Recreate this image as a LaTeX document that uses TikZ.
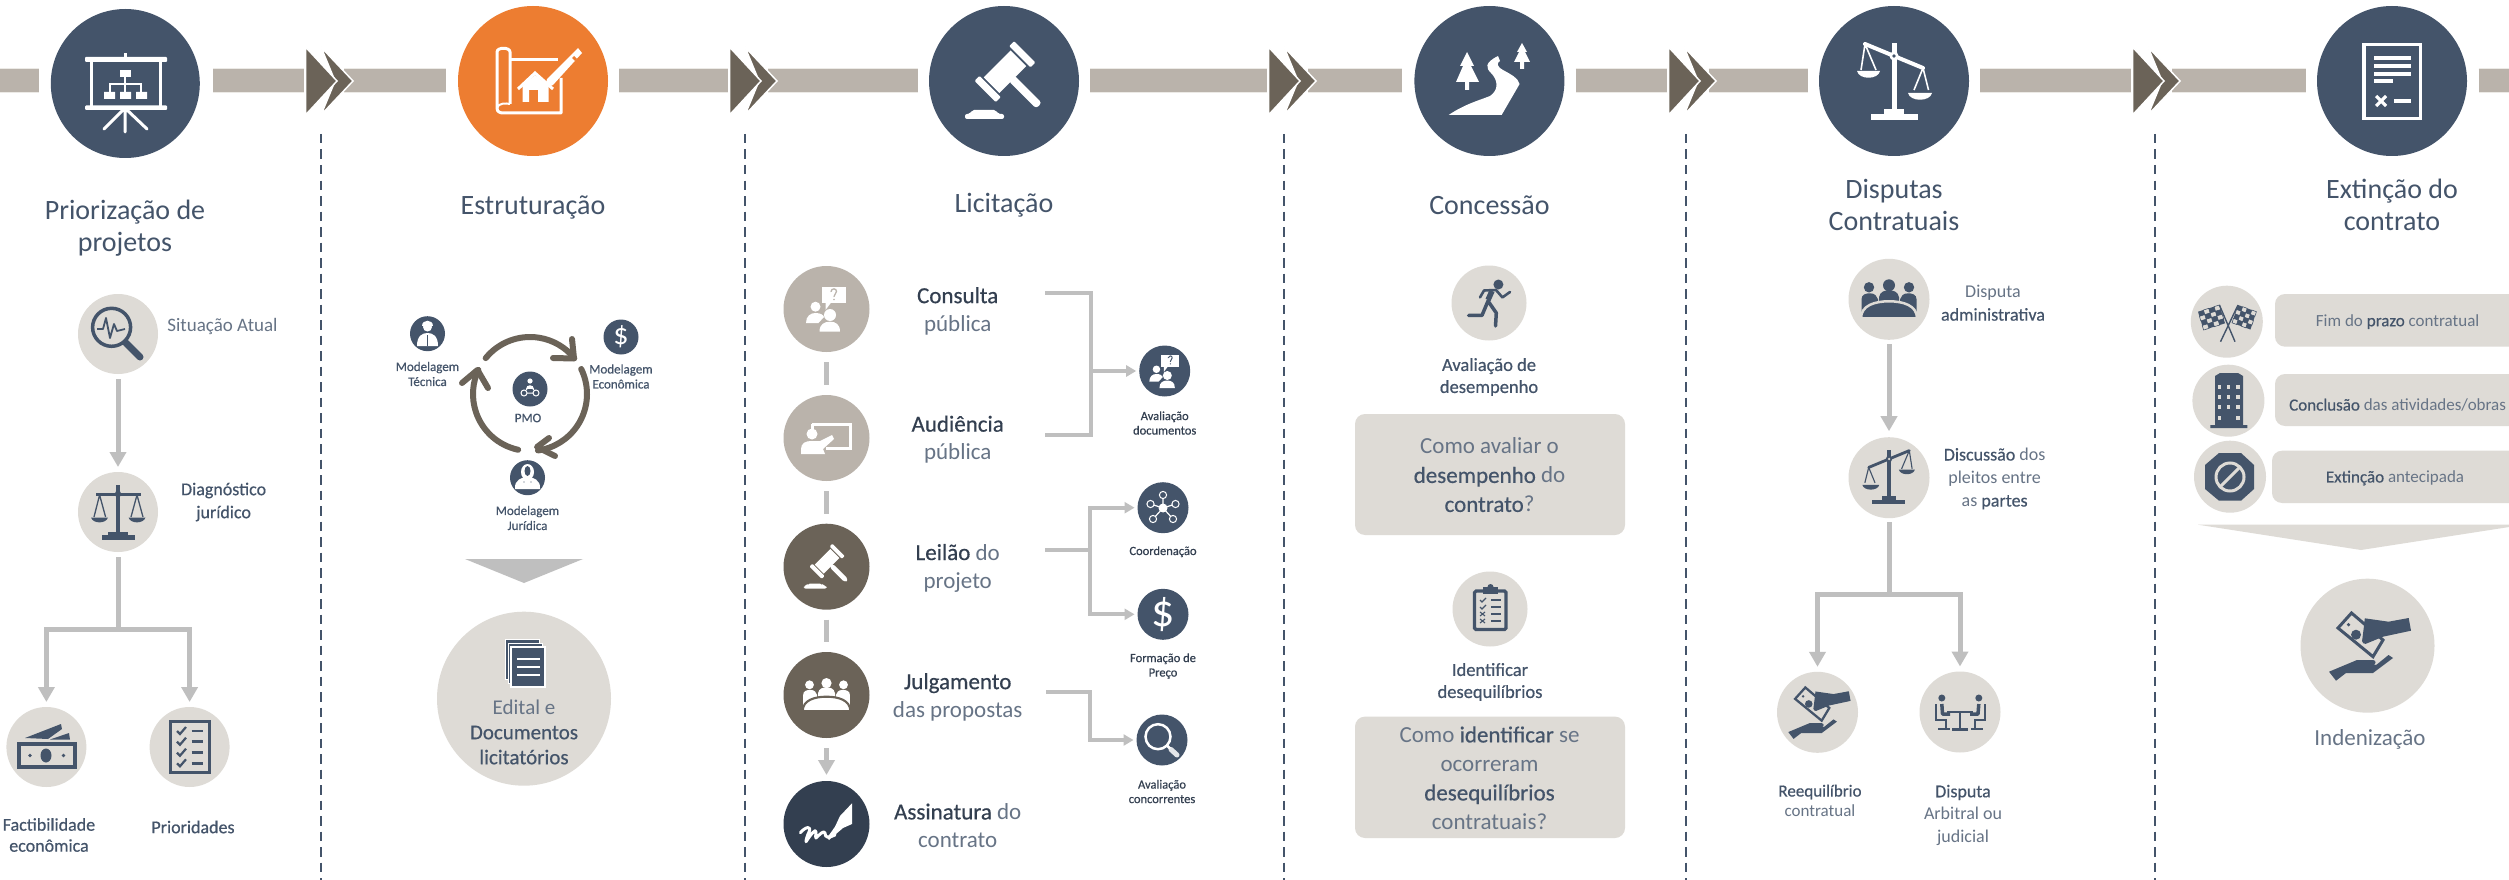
\documentclass[tikz,border=0pt]{standalone}
\usepackage{fontspec}
\setmainfont{Carlito}
\newfontfamily\semi[FakeBold=0.5]{Carlito}
\usetikzlibrary{arrows.meta,calc}
\definecolor{blu}{HTML}{44546A}
\definecolor{org}{HTML}{ED7D31}
\definecolor{tan}{HTML}{BAB3AB}
\definecolor{brn}{HTML}{6B6358}
\definecolor{nvy}{HTML}{333F50}
\definecolor{lit}{HTML}{DEDBD6}
\definecolor{con}{HTML}{BFBFBF}
\definecolor{mut}{HTML}{677486}
\definecolor{edg}{HTML}{ECEAE6}
\newcommand{\sbf}[1]{{\semi #1}}
\newcommand{\fs}[2]{\fontsize{#1}{#2}\selectfont}
\tikzset{
 disc/.style 2 args={circle,inner sep=0pt,outer sep=0pt,minimum size=#1 pt,fill=#2},
 ttl/.style={inner sep=0pt,align=center,text=blu,font=\fs{28}{32}},
 txt/.style={inner sep=0pt,align=center,text=mut},
 bandln/.style={draw=edg,double=tan,double distance=23pt,line width=1pt},
 dashln/.style={draw=blu,line width=2pt,dash pattern=on 9.5pt off 6pt},
 conn/.style={draw=con,line width=5pt},
 thin conn/.style={draw=con,line width=4pt},
 head/.style={-{Triangle[length=15pt,width=16pt]}},
 shead/.style={-{Triangle[length=10pt,width=11pt]}},
 cyc/.style={draw=brn,line width=6pt,line cap=round,line join=round},
 box/.style={rounded corners=10pt,fill=lit},
}
% gavel, origin at icon centre
\newcommand{\icGavel}[3]{\begin{scope}[shift={#1},scale=#2]
 \begin{scope}[shift={(1,-9.3)},rotate=-45]
  \fill[#3] (-11,-19) rectangle (11,19);
  \fill[#3,rounded corners=3pt] (9,-4) rectangle (48,4);
  \fill[#3,rounded corners=1pt] (-15,-28) rectangle (15,-21);
  \fill[#3,rounded corners=1pt] (-15,21) rectangle (15,28);
 \end{scope}
 \fill[#3,rounded corners=2pt] (-39,38) -- (-39,33) -- (-34,33) -- (-32,29) -- (-8,29) -- (-6,33) -- (0,33) -- (0,38) -- cycle;
\end{scope}}
% tilted balance
\newcommand{\icTilt}[5]{\begin{scope}[shift={#1},xscale=#4*#2,yscale=#2]
 \fill[#3] (-2.5,-38) rectangle (2.5,32);
 \fill[#3] (-23,33) rectangle (24,39);
 \fill[#3] (-10,28) rectangle (10,34);
 \draw[#3,line width=#2*4pt,line cap=round] (-29,-37) -- (29,-13);
 \draw[#3,line width=#2*1.6pt,line join=round] (-33,-11) -- (-29,-37) -- (-18,-11);
 \draw[#3,line width=#2*1.6pt,line join=round] (20,9) -- (29,-13) -- (34.5,9);
 \fill[#3] (-37,-10) .. controls (-35,-1) and (-16,-1) .. (-14,-10) -- cycle;
 \fill[#3] (14,12) .. controls (16,21) and (36,21) .. (38,12) -- cycle;
 \fill[#3] (0,-25) circle[radius=4.5];
 \fill[#5] (0,-25) circle[radius=1.8];
\end{scope}}
% people round a table
\newcommand{\icTable}[4]{\begin{scope}[shift={#1},scale=#2]
 \fill[#3] (-27.5,16) -- (-27.5,0) .. controls (-27.5,-5) and (-23,-6) .. (-19,-6) .. controls (-14,-6) and (-12,-3) .. (-11,0) -- (-11,16) -- cycle;
 \fill[#3] (27.5,16) -- (27.5,0) .. controls (27.5,-5) and (23,-6) .. (19,-6) .. controls (14,-6) and (12,-3) .. (11,0) -- (11,16) -- cycle;
 \fill[#3] (-10,6) -- (-10,-2) .. controls (-9,-8) and (-4,-9) .. (0,-9) .. controls (4,-9) and (9,-8) .. (10,-2) -- (10,6) -- cycle;
 \filldraw[fill=#3,draw=#4,line width=#2*2.5pt] (-28,19) .. controls (-28,6) and (-14,2) .. (0,2) .. controls (14,2) and (28,6) .. (28,19) -- cycle;
 \fill[#3] (-20,-12) circle[radius=5.2];
 \fill[#3] (0,-14) circle[radius=6];
 \fill[#3] (20,-12) circle[radius=5.2];
\end{scope}}
% hands and banknote
\newcommand{\icHands}[4]{\begin{scope}[shift={#1},scale=#2]
 \draw[#3,line width=#2*3pt,line join=miter] (-16,-32.7) -- (-29.5,-17.7) -- (5.5,11) -- (15.5,-5.7) -- cycle;
 \fill[#3] (-11.5,-11) circle[radius=5];
 \fill[#3] (-19,-21) circle[radius=1.8];
 \fill[#3] (-2.7,-27.4) -- (21,-24) -- (41.2,-27.7) -- (43.5,-15) -- (15.5,-9) -- (1,-3) .. controls (-3,0) and (-7,-3) .. (-5,-8) -- (-4,-16) -- cycle;
 \fill[#3] (-38.5,26) -- (-10.5,14.3) -- (5.3,14.3) .. controls (9,14.3) and (9,19) .. (5,19.5) -- (-4,20) -- (9,19) -- (21,9.3) -- (25.5,12.3) -- (5.5,27.3) -- (-21.5,27.3) -- (-31.5,35) -- cycle;
\end{scope}}
% two people and a question balloon
\newcommand{\icAsk}[4]{\begin{scope}[shift={#1},scale=#2]
 \fill[#3] (-4.5,-22) rectangle (19.5,-6);
 \fill[#3] (-1,-7) -- (5,-7) -- (-1,1) -- cycle;
 \draw[#4,line width=#2*1.3pt,line cap=round] (4.5,-17.5) .. controls (5,-21) and (10,-21) .. (10,-17.5) .. controls (10,-15) and (7.5,-15) .. (7.5,-12.5);
 \fill[#4] (7.5,-9.5) circle[radius=.9];
 \fill[#3] (-11,-2.3) circle[radius=5];
 \fill[#3] (-20.5,14) .. controls (-20.5,7) and (-16,4) .. (-11,4) .. controls (-6,4) and (-3,6) .. (-2.5,8) -- (-8,14) -- cycle;
 \fill[#3] (3.5,6) circle[radius=6];
 \fill[#3] (-7,22.7) .. controls (-7,15) and (-2,12.7) .. (3.5,12.7) .. controls (9,12.7) and (13.5,15) .. (13.5,22.7) -- cycle;
\end{scope}}
\begin{document}
\begin{tikzpicture}[x=1pt,y=-1pt]
\useasboundingbox (0,0) rectangle (2509,880);
\clip (0,0) rectangle (2509,880);
\fill[white] (0,0) rectangle (2509,880);
% ---------- stage discs and backbone
\node[disc={149}{blu}] (c1) at (125.3,83.5) {};
\node[disc={150}{org}] (c2) at (533,81) {};
\node[disc={150}{blu}] (c3) at (1004,81) {};
\node[disc={150}{blu}] (c4) at (1489.4,81) {};
\node[disc={150}{blu}] (c5) at (1894,81) {};
\node[disc={150}{blu}] (c6) at (2392,81) {};
\coordinate (bl) at (0,81); \coordinate (br) at (2509,81);
\coordinate (ch1) at (304,81); \coordinate (ch2) at (728,81); \coordinate (ch3) at (1267,81);
\coordinate (ch4) at (1667,81); \coordinate (ch5) at (2131,81);
\draw[bandln,shorten >=86.5pt] (bl) -- (bl -| c1);
\draw[bandln,shorten <=88pt] (ch1 -| c1) -- (ch1);
\draw[bandln,shorten <=40pt,shorten >=87pt] (ch1) -- (c2.center);
\draw[bandln,shorten <=86pt] (c2.center) -- (ch2);
\draw[bandln,shorten <=40pt,shorten >=86pt] (ch2) -- (c3.center);
\draw[bandln,shorten <=86pt] (c3.center) -- (ch3);
\draw[bandln,shorten <=41pt,shorten >=87pt] (ch3) -- (c4.center);
\draw[bandln,shorten <=86.5pt] (c4.center) -- (ch4);
\draw[bandln,shorten <=41.5pt,shorten >=86pt] (ch4) -- (c5.center);
\draw[bandln,shorten <=86pt] (c5.center) -- (ch5);
\draw[bandln,shorten <=41pt,shorten >=86pt] (ch5) -- (c6.center);
\draw[bandln,shorten <=86.5pt] (c6.center) -- (br);
\foreach \a in {ch1,ch2,ch3,ch4,ch5}{
 \begin{scope}[shift={(\a)}]
  \filldraw[fill=brn,draw=white,line width=1.5pt,line join=miter] (17,-34) -- (49,0) -- (17,34) -- (31,0) -- cycle;
  \filldraw[fill=brn,draw=white,line width=1.5pt,line join=miter] (1.5,-34) -- (33,0) -- (1.5,34) -- cycle;
 \end{scope}}
% dashed separators
\coordinate (d1t) at (320.5,134); \coordinate (d1b) at (320.5,880);
\coordinate (d2t) at (744.5,134); \coordinate (d2b) at (744.5,880);
\coordinate (d3t) at (1284,134); \coordinate (d3b) at (1284,880);
\coordinate (d4t) at (1685.7,134); \coordinate (d4b) at (1685.7,880);
\coordinate (d5t) at (2155.4,134); \coordinate (d5b) at (2155.4,880);
\foreach \k in {1,...,5}{\draw[dashln] (d\k t) -- (d\k b);}
% ---------- icons in the stage discs
\begin{scope}[white]
 \fill (123.5,53) rectangle (126.5,58);
 \fill[rounded corners=1pt] (85,57) rectangle (167,62);
 \fill[rounded corners=1pt] (85,105.5) rectangle (167,110);
 \draw[line width=3pt] (91,60) -- (91,107) (160,60) -- (160,107);
 \draw[line width=3pt,line cap=round] (125,108) -- (125,132) (124,109) -- (104,129) (126,109) -- (147,129);
 \fill (120,70) rectangle (131,77);
 \fill (104,92) rectangle (115,99) (120,92) rectangle (131,99) (136,92) rectangle (147,99);
 \draw[line width=1.5pt] (125,77) -- (125,92) (110,92) -- (110,84) -- (141,84) -- (141,92);
\end{scope}
\begin{scope}[white]
 \draw[line width=3pt,line join=round] (510,104) -- (510,52) .. controls (510,47) and (497,47) .. (497,52) -- (497,108) .. controls (497,112) and (500,113) .. (504,113) -- (561,113) -- (561,78);
 \draw[line width=3pt] (510,60) -- (558,60);
 \draw[line width=2pt] (497,108) .. controls (498,103) and (506,103) .. (510,104);
 \fill (578,48) -- (582,53) -- (553,85) -- (545,88) -- (547,79) -- cycle;
 \fill[org] (574,56) -- (577,59) -- (575,61) -- (572,58) -- cycle;
 \fill (522.5,86) -- (535,75) -- (548.7,86) -- (548.7,102) -- (538,102) -- (538,90) -- (529,90) -- (529,102) -- (522.5,102) -- cycle;
 \draw[line width=3pt,line join=miter] (518,89) -- (535,73) -- (553,89);
\end{scope}
\icGavel{(1004,81)}{1}{white}
\begin{scope}[white]
 \fill (1448.6,115) .. controls (1465,104) and (1480,100) .. (1490,96) .. controls (1499,90) and (1498,80) .. (1491,73) .. controls (1486,68) and (1484,63) .. (1498,56) -- (1500,61) .. controls (1497,63) and (1496,66) .. (1503,70) .. controls (1512,75) and (1518,78) .. (1519.6,84) -- (1501.6,115) -- cycle;
 \fill (1467,52) -- (1474,66) -- (1471,66) -- (1479,82) -- (1469,82) -- (1469,90) -- (1465,90) -- (1465,82) -- (1456,82) -- (1463,66) -- (1460,66) -- cycle;
 \fill (1522,43) -- (1527,52) -- (1525,52) -- (1530,62) -- (1524,62) -- (1524,69) -- (1520,69) -- (1520,62) -- (1514,62) -- (1519,52) -- (1517,52) -- cycle;
\end{scope}
\icTilt{(1894,81)}{1}{white}{1}{blu}
\begin{scope}[white]
 \draw[line width=3.5pt] (2364,44.5) rectangle (2420.5,118.5);
 \draw[line width=4pt] (2374.4,58) -- (2411.4,58) (2374.4,66) -- (2411.4,66) (2374.4,74) -- (2411.4,74) (2374.4,81) -- (2393,81) (2394,101) -- (2411.4,101);
 \draw[line width=3.2pt] (2376,96) -- (2386,106) (2386,96) -- (2376,106);
\end{scope}
% ---------- titles
\node[ttl] (t1) at (125,228) {Priorização de\\projetos};
\node[ttl] (t2) at (533,207) {Estruturação};
\node[ttl] (t3) at (1004,205) {Licitação};
\node[ttl] (t4) at (1489.4,205) {Concessão};
\node[ttl] (t5) at (1894,205) {Disputas\\Contratuais};
\node[ttl] (t6) at (2392,205) {Extinção do\\contrato};
% ---------- column 1
\node[disc={80}{lit}] (sit) at (118,334) {};
\node[disc={80}{lit}] (dia) at (118,512) {};
\node[disc={80}{lit}] (fac) at (46.4,747) {};
\node[disc={80}{lit}] (pri) at (189.6,747) {};
\coordinate (j1) at (118,629);
\draw[conn,head,shorten <=5pt,shorten >=5pt] (sit) -- (dia);
\draw[conn,shorten <=5pt] (dia) -- (j1);
\draw[conn,head,shorten >=5pt] (j1) -| (fac.north);
\draw[conn,head,shorten >=5pt] (j1) -| (pri.north);
\node[txt,font=\fs{19}{20}] (l1) at (222.5,326) {Situação Atual};
\node[txt,text=blu,font=\fs{18}{23}] (l2) at (223.6,502) {\sbf{Diagnóstico}\\\sbf{jurídico}};
\node[txt,text=blu,font=\fs{18}{21}] (l3) at (49,835) {\sbf{Factibilidade}\\\sbf{econômica}};
\node[txt,text=blu,font=\fs{18}{21}] (l4) at (193,827) {\sbf{Prioridades}};
\begin{scope}[blu]
 \draw[line width=3.5pt] (111.6,327.3) circle[radius=19];
 \draw[line width=7pt,line cap=round] (126,343) -- (140,357);
 \draw[line width=1.8pt,line join=round] (97,329) -- (103,329) -- (106,318) -- (110,338) -- (114,324) -- (117,331) -- (125,329);
\end{scope}
\begin{scope}[blu]
 \fill (116,485) rectangle (120,536);
 \fill (102,535) rectangle (134.5,539.5);
 \fill (108,532) rectangle (128,536);
 \fill (95.5,492.5) rectangle (141,495.5);
 \fill (118,494) circle[radius=3.2];
 \draw[line width=1.3pt,line join=round] (94,517) -- (99.6,495) -- (105.6,517);
 \draw[line width=1.3pt,line join=round] (131,517) -- (137,495) -- (143,517);
 \fill (91,517.5) .. controls (93,524) and (106,524) .. (108,517.5) -- cycle;
 \fill (128.5,517.5) .. controls (130.5,524) and (143.5,524) .. (145.5,517.5) -- cycle;
\end{scope}
\begin{scope}[blu]
 \fill (17,741.7) rectangle (76.7,769);
 \fill[lit] (20.5,746) rectangle (73,765);
 \fill (46,755.5) ellipse[x radius=5.5,y radius=7];
 \fill (30,755.5) circle[radius=1.8] (63.5,755.5) circle[radius=1.8];
 \fill (25,738) -- (61,724) -- (62,729) -- (48,739) -- cycle;
 \fill (50,739.5) -- (69,733) -- (70,739.5) -- cycle;
\end{scope}
\begin{scope}[blu]
 \draw[line width=3.2pt] (170.5,721.5) rectangle (209.5,772.5);
 \foreach \y in {731,741.7,752.7,763.3}{
  \draw[line width=2.2pt] (177,\y) -- (180,\y+3) -- (186,\y-4);
  \draw[line width=2.6pt] (191.5,\y) -- (203.4,\y);
 }
\end{scope}
% ---------- column 2
\node[disc={35}{blu}] (me1) at (427.5,333.7) {};
\node[disc={35}{blu}] (me2) at (621,337) {};
\node[disc={35}{blu}] (me3) at (530,389) {};
\node[disc={35}{blu}] (me4) at (527.5,477.7) {};
\node[inner sep=0pt,text=white,font=\fs{30}{30}] (dol1) at (621,337) {\$};
\node[txt,text=blu,font=\fs{13}{15}] (m1) at (427.5,374) {\sbf{Modelagem}\\\sbf{Técnica}};
\node[txt,text=blu,font=\fs{13}{15}] (m2) at (621,376.5) {\sbf{Modelagem}\\\sbf{Econômica}};
\node[txt,text=blu,font=\fs{13}{15}] (m3) at (528,418) {\sbf{PMO}};
\node[txt,text=blu,font=\fs{13}{15}] (m4) at (527.5,518) {\sbf{Modelagem}\\\sbf{Jurídica}};
\begin{scope}[white]
 \fill (427.5,327) circle[radius=4.5];
 \fill (422,326) .. controls (422,319) and (433,319) .. (433,326) -- cycle;
 \fill (417,346) .. controls (417,336) and (422,333) .. (427.5,333) .. controls (433,333) and (438,336) .. (438,346) -- cycle;
 \fill[blu] (426.7,335) rectangle (428.3,346);
\end{scope}
\begin{scope}[white]
 \fill (530,381) circle[radius=2.6];
 \fill (526,389) .. controls (526,384) and (534,384) .. (534,389) -- cycle;
 \draw[line width=1pt] (524,393) circle[radius=3] (536,393) circle[radius=3];
 \draw[line width=1pt] (527,393) -- (533,393) (526,390) -- (528,388) (534,390) -- (532,388);
\end{scope}
\begin{scope}[white]
 \fill (527.5,472) ellipse[x radius=6.5,y radius=8];
 \fill (515,489) .. controls (514,480) and (522,477) .. (527.5,477) .. controls (533,477) and (541,480) .. (540,489) -- cycle;
 \fill[blu] (527.5,471) ellipse[x radius=3,y radius=5];
 \fill[blu] (524,482) circle[radius=.7] (531,482) circle[radius=.7];
\end{scope}
\coordinate (rc) at (530,394);
\draw[cyc] (rc) ++(219:57) arc (219:321:57);
\draw[cyc] (553,358) -- (574,358.5) -- (572,339);
\draw[cyc] (rc) ++(-26:57) arc (-26:82:57);
\draw[cyc] (549,438) -- (537,447) -- (555,456);
\draw[cyc] (rc) ++(102:57) arc (102:205:57);
\draw[cyc] (462,383) -- (477.5,370) -- (488,388);
\path[fill=con] (465,559) -- (583,559) -- (524,583) -- cycle;
\node[disc={174}{lit}] (edi) at (524,698.7) {};
\begin{scope}
 \foreach \o in {6,3}{\filldraw[fill=blu,draw=white,line width=1pt] (511-\o,647-\o*1.2) rectangle (545-\o,687-\o*1.2);}
 \filldraw[fill=blu,draw=white,line width=1.2pt] (511,647) rectangle (545,687);
 \draw[white,line width=2pt] (517.4,659) -- (539.5,659) (517.4,667) -- (539.5,667) (517.4,675) -- (539.5,675);
\end{scope}
\node[txt,font=\fs{21}{25}] (e1) at (524,732) {Edital e\\\textcolor{blu}{\sbf{Documentos}}\\\textcolor{blu}{\sbf{licitatórios}}};
% ---------- column 3
\node[disc={86}{tan}] (k1) at (826.5,309) {};
\node[disc={86}{tan}] (k2) at (826.5,438) {};
\node[disc={86}{brn}] (k3) at (826.5,566.7) {};
\node[disc={86}{brn}] (k4) at (826.5,695) {};
\node[disc={86}{nvy}] (k5) at (826.5,824) {};
\draw[conn,draw=con,line width=5.4pt,shorten <=10pt,shorten >=10pt] (k1) -- (k2);
\draw[conn,line width=5.4pt,shorten <=10pt,shorten >=10pt] (k2) -- (k3);
\draw[conn,line width=5.4pt,shorten <=10pt,shorten >=10pt] (k3) -- (k4);
\draw[conn,line width=5.4pt,head,shorten <=10pt,shorten >=6pt] (k4) -- (k5);
\node[txt,text=mut,font=\fs{23}{28}] (x1) at (957.7,311) {\textcolor{nvy}{\sbf{Consulta}}\\pública};
\node[txt,text=mut,font=\fs{23}{28}] (x2) at (957.7,439.5) {\textcolor{nvy}{\sbf{Audiência}}\\pública};
\node[txt,text=mut,font=\fs{23}{28}] (x3) at (957.7,568) {\textcolor{nvy}{\sbf{Leilão}} do\\projeto};
\node[txt,text=mut,font=\fs{23}{28}] (x4) at (957.7,697) {\textcolor{nvy}{\sbf{Julgamento}}\\das propostas};
\node[txt,text=mut,font=\fs{23}{28}] (x5) at (957.7,825.5) {\textcolor{nvy}{\sbf{Assinatura}} do\\contrato};
\node[disc={51}{blu}] (q1) at (1164.7,371) {};
\node[disc={51}{blu}] (q2) at (1163,507.7) {};
\node[disc={51}{blu}] (q3) at (1163,614.3) {};
\node[disc={51}{blu}] (q4) at (1162,740) {};
\node[txt,text=nvy,font=\fs{12.5}{14.5}] (y1) at (1164.7,423) {\sbf{Avaliação}\\\sbf{documentos}};
\node[txt,text=nvy,font=\fs{12.5}{14.5}] (y2) at (1163,551.7) {\sbf{Coordenação}};
\node[txt,text=nvy,font=\fs{12.5}{14.5}] (y3) at (1163,666) {\sbf{Formação de}\\\sbf{Preço}};
\node[txt,text=nvy,font=\fs{12.5}{14.5}] (y4) at (1162,791.5) {\sbf{Avaliação}\\\sbf{concorrentes}};
\coordinate (a1) at (1045,292.7); \coordinate (a2) at (1045,435); \coordinate (av) at (1091,371);
\draw[thin conn,line join=miter] (a1) -| (1091,435) -- (a2);
\draw[thin conn,shead,shorten >=3pt] (av) -- (q1);
\coordinate (b1) at (1045,550); \coordinate (bv) at (1090,550);
\draw[thin conn] (b1) -- (bv);
\draw[thin conn,shead,shorten >=3pt] (bv) |- (q2);
\draw[thin conn,shead,shorten >=3pt] (bv) |- (q3);
\coordinate (d1) at (1046,692); \coordinate (dv) at (1090,692);
\draw[thin conn,shead,shorten >=3pt] (d1) -- (dv) |- (q4);
\icAsk{(826.5,309)}{1}{white}{tan}
\begin{scope}[white]
 \draw[line width=3pt] (812,424) -- (850,424) -- (850,448) -- (826,448);
 \draw[line width=3pt] (812,424) -- (812,430);
 \fill (812,434) circle[radius=5.5];
 \fill (801,454) -- (801,449) .. controls (801,443) and (806,441) .. (811,441) -- (820,441) -- (832,435) -- (834,439) -- (823,449) -- (825,454) -- cycle;
\end{scope}
\icGavel{(826.5,566.7)}{.58}{white}
\icTable{(826.5,695)}{.85}{white}{brn}
\begin{scope}[white]
 \fill (852,803.3) -- (852,824) -- (843,828) -- (829,840) -- (827,838) -- (835,826.7) -- (840,816) -- cycle;
 \draw[line width=3pt,line cap=round,line join=round] (800.4,832.7) .. controls (806,826) and (812,826) .. (809,832) .. controls (807,836) and (806,840) .. (806,841.7) .. controls (811,834) and (816,828) .. (816,832) .. controls (816,836) and (815,838) .. (816,838) .. controls (820,834) and (824,830) .. (825,833) .. controls (825,838) and (828,838) .. (835,835);
\end{scope}
\icAsk{(1164.7,371)}{.75}{white}{blu}
\begin{scope}[white]
 \draw[line width=1.2pt] (1163,508) -- (1163,497) (1163,508) -- (1150.5,504) (1163,508) -- (1175.5,504) (1163,508) -- (1153,519) (1163,508) -- (1173,519);
 \fill (1163,508) circle[radius=4.5];
 \filldraw[fill=blu,draw=white,line width=1pt] (1163,495) circle[radius=3.6] (1150.5,504) circle[radius=3.6] (1175.5,504) circle[radius=3.6] (1153,519) circle[radius=3.6] (1173,519) circle[radius=3.6];
\end{scope}
\node[inner sep=0pt,text=white,font=\fs{46}{46}] (dol2) at (1163,614.3) {\$};
\begin{scope}[white]
 \draw[line width=2.5pt] (1158,736.7) circle[radius=12.5];
 \draw[line width=2.5pt] (1167,745.5) -- (1170,748.5);
 \draw[white,line width=5pt,line cap=round,opacity=.85] (1171,749.5) -- (1177,755);
\end{scope}
% ---------- column 4
\node[disc={75}{lit}] (p1) at (1489,303) {};
\node[disc={75}{lit}] (p2) at (1490,609) {};
\node[txt,text=blu,font=\fs{18.5}{22}] (z1) at (1489,377) {\sbf{Avaliação de}\\\sbf{desempenho}};
\node[txt,text=blu,font=\fs{18.5}{22}] (z2) at (1490,682) {\sbf{Identificar}\\\sbf{desequilíbrios}};
\path[box] (1355,414) rectangle (1625,535);
\path[box] (1355,716.6) rectangle (1625,838);
\node[txt,font=\fs{23}{29}] (z3) at (1489.5,475) {Como avaliar o\\\textcolor{blu}{\sbf{desempenho}} do\\\textcolor{blu}{\sbf{contrato}}?};
\node[txt,font=\fs{23}{29}] (z4) at (1489.5,778) {Como \textcolor{blu}{\sbf{identificar}} se\\ocorreram\\\textcolor{blu}{\sbf{desequilíbrios}}\\contratuais?};
\begin{scope}[blu]
 \fill (1498.4,284.5) circle[radius=5];
 \draw[line width=5.5pt,line join=round] (1492,291) -- (1488,300);
 \draw[line width=3.5pt,line join=round,line cap=round] (1468.6,315.4) -- (1482,315.4) -- (1488,301) -- (1496.3,313) -- (1495.5,326);
 \draw[line width=2.6pt,line join=round,line cap=round] (1480,297.4) -- (1484,290.5) -- (1496,290) -- (1502.4,297.4) -- (1510,292);
\end{scope}
\begin{scope}[blu]
 \draw[line width=3.2pt,rounded corners=1.5pt] (1474.5,591) rectangle (1506,629.5);
 \fill (1483,587) rectangle (1498,594);
 \fill (1490.5,587) circle[radius=3];
 \foreach \y in {600,607,614,621}{\draw[line width=1.8pt] (1491,\y) -- (1501,\y);}
 \foreach \y in {600,607}{\draw[line width=1.1pt] (1480,\y) -- (1482,\y+2) -- (1486,\y-2);}
 \foreach \y in {614,621}{\draw[line width=1.1pt] (1480,\y-2) -- (1485,\y+2) (1485,\y-2) -- (1480,\y+2);}
\end{scope}
% ---------- column 5
\node[disc={81}{lit}] (v1) at (1889,299.3) {};
\node[disc={81}{lit}] (v2) at (1889,477.7) {};
\node[disc={81}{lit}] (v3) at (1817.5,712.3) {};
\node[disc={81}{lit}] (v4) at (1960,712) {};
\coordinate (j5) at (1889,594);
\draw[conn,head,shorten <=4.5pt,shorten >=6pt] (v1) -- (v2);
\draw[conn,shorten <=4pt] (v2) -- (j5);
\draw[conn,head,shorten >=5pt] (j5) -| (v3.north);
\draw[conn,head,shorten >=5pt] (j5) -| (v4.north);
\node[txt,font=\fs{18}{23}] (w1) at (1993,303) {Disputa\\\textcolor{blu}{\sbf{administrativa}}};
\node[txt,font=\fs{18}{23}] (w2) at (1994.6,478.7) {\textcolor{blu}{\sbf{Discussão}} dos\\pleitos entre\\as \textcolor{blu}{\sbf{partes}}};
\node[txt,font=\fs{17}{20}] (w3) at (1820,800.7) {\textcolor{blu}{\sbf{Reequilíbrio}}\\contratual};
\node[txt,font=\fs{18}{22.7}] (w4) at (1963,815.3) {\textcolor{blu}{\sbf{Disputa}}\\Arbitral ou\\judicial};
\icTable{(1889,299.3)}{1}{blu}{lit}
\icTilt{(1889,476.5)}{.7}{blu}{-1}{lit}
\icHands{(1817.5,712.3)}{.76}{blu}{lit}
\begin{scope}[blu]
 \fill (1941.8,698) circle[radius=3.5] (1978.8,698) circle[radius=3.5];
 \draw[line width=3.5pt,line join=round] (1941.8,704) -- (1942.5,714) -- (1950,714);
 \draw[line width=3.5pt,line join=round] (1978.8,704) -- (1978,714) -- (1970,714);
 \draw[line width=2pt] (1936,704) -- (1936,720) -- (1946,720) -- (1946,729) (1938,729) -- (1950,729);
 \draw[line width=2pt] (1985,704) -- (1985,720) -- (1975,720) -- (1975,729) (1971,729) -- (1983,729);
 \draw[line width=2.2pt] (1947,711.7) -- (1973,711.7);
 \draw[line width=2.4pt] (1960,712) -- (1960,729) (1952,729.5) -- (1968,729.5);
\end{scope}
% ---------- column 6
\node[disc={72}{lit}] (u1) at (2226.8,321.7) {};
\node[disc={72}{lit}] (u2) at (2228.4,400.7) {};
\node[disc={72}{lit}] (u3) at (2230,476.7) {};
\path[box] (2275,294) rectangle (2530,346.7);
\path[box] (2275,374) rectangle (2530,426);
\path[box] (2272,450.7) rectangle (2530,503);
\node[txt,font=\fs{17}{20}] (s1) at (2397.6,321.7) {Fim do \textcolor{blu}{\sbf{prazo}} contratual};
\node[txt,font=\fs{17}{20}] (s2) at (2397.6,405) {\textcolor{blu}{\sbf{Conclusão}} das atividades/obras};
\node[txt,font=\fs{17}{20}] (s3) at (2395,478) {\textcolor{blu}{\sbf{Extinção}} antecipada};
\path[fill=lit] (2198,524.7) -- (2524,524.7) -- (2361,550) -- cycle;
\node[disc={134}{lit}] (ind) at (2367.5,645.7) {};
\node[txt,font=\fs{23}{26}] (s4) at (2370,739.3) {Indenização};
\icHands{(2367.5,645.7)}{1}{blu}{lit}
\begin{scope}[blu]
 \draw[line width=1.4pt] (2219.4,305) -- (2235,341.7) (2238,305) -- (2220.5,341.7);
 \foreach \i in {0,1,2,3}{\foreach \j in {0,1,2,3}{
  \pgfmathparse{int(mod(\i+\j,2))}
  \ifnum\pgfmathresult=0
   \fill ($(2198,311.7)!{\i/4}!(2219.4,305)+\j/4*(5.6,18.3)$) -- ++(5.35,-1.68) -- ++(1.4,4.6) -- ++(-5.35,1.68) -- cycle;
   \fill ($(2238,305)!{\i/4}!(2256.4,311.7)+\j/4*(-6,17.8)$) -- ++(4.6,1.68) -- ++(-1.5,4.45) -- ++(-4.6,-1.68) -- cycle;
  \else
   \draw[line width=.6pt] ($(2198,311.7)!{\i/4}!(2219.4,305)+\j/4*(5.6,18.3)$) -- ++(5.35,-1.68) -- ++(1.4,4.6) -- ++(-5.35,1.68) -- cycle;
   \draw[line width=.6pt] ($(2238,305)!{\i/4}!(2256.4,311.7)+\j/4*(-6,17.8)$) -- ++(4.6,1.68) -- ++(-1.5,4.45) -- ++(-4.6,-1.68) -- cycle;
  \fi
 }}
\end{scope}
\begin{scope}[blu]
 \fill (2215,376) -- (2220,373) -- (2238,373) -- (2243,376) -- (2243,425) -- (2247.4,425) -- (2247.4,428) -- (2210.4,428) -- (2210.4,425) -- (2215,425) -- cycle;
 \foreach \y in {386.7,396.7,407.3,417.7}{\foreach \x in {2219.4,2228.4,2238}{\fill[lit] (\x-1.6,\y-2) rectangle (\x+1.6,\y+2);}}
 \fill (2226,414) rectangle (2231,428);
\end{scope}
\begin{scope}[blu]
 \fill (2219,453) -- (2241,453) -- (2254,465) -- (2254,489) -- (2241,500.7) -- (2219,500.7) -- (2205,489) -- (2205,465) -- cycle;
 \draw[lit,line width=3pt] (2230,477) circle[radius=14];
 \draw[lit,line width=3pt] (2220,487) -- (2240,467);
\end{scope}
\end{tikzpicture}
\end{document}
